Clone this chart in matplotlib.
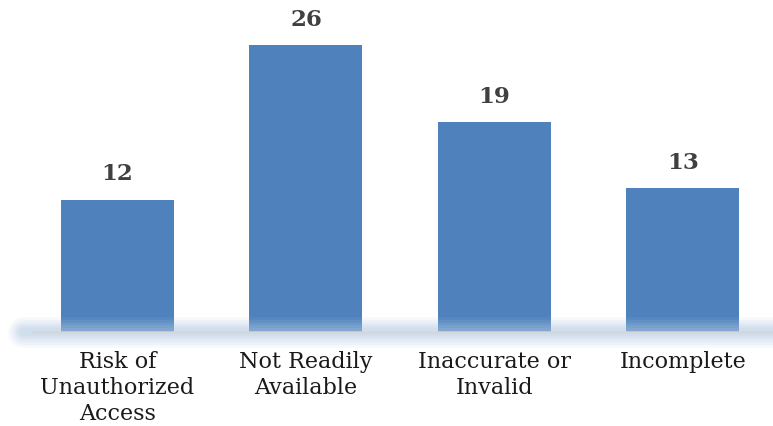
import matplotlib.pyplot as plt

categories = ['Risk of\nUnauthorized\nAccess', 'Not Readily\nAvailable', 'Inaccurate or\nInvalid', 'Incomplete']
values = [12, 26, 19, 13]

fig = plt.figure(figsize=(7.73, 4.26), dpi=100)
ax = fig.add_axes([0, 0, 1, 1])
ax.set_xlim(-0.624, 3.479)
ax.set_ylim(-8.51, 30.07)
ax.axis('off')

x = range(len(categories))
ax.bar(x, values, width=0.6, color='#4F81BD', zorder=2)

# soft glowing floor under the bars
for lw, a in [(22, 0.1), (18, 0.13), (14, 0.15), (10, 0.17), (6, 0.2)]:
    ax.plot([-0.5, 3.6], [0, 0], color='#B0C6E2', lw=lw, alpha=a,
            solid_capstyle='round', zorder=3)
ax.plot([-0.45, 3.6], [0, 0], color='#D6D6D6', lw=1.8, zorder=4)

for xi, v in zip(x, values):
    ax.text(xi, v + 1.3, str(v), ha='center', va='bottom', fontsize=16.5,
            fontweight='bold', family='DejaVu Serif', color='#404040')

for xi, lab in zip(x, categories):
    ax.text(xi, -1.7, lab, ha='center', va='top', fontsize=16,
            family='DejaVu Serif', color='#1a1a1a', linespacing=1.25)

fig.savefig('out.png', dpi=100)
